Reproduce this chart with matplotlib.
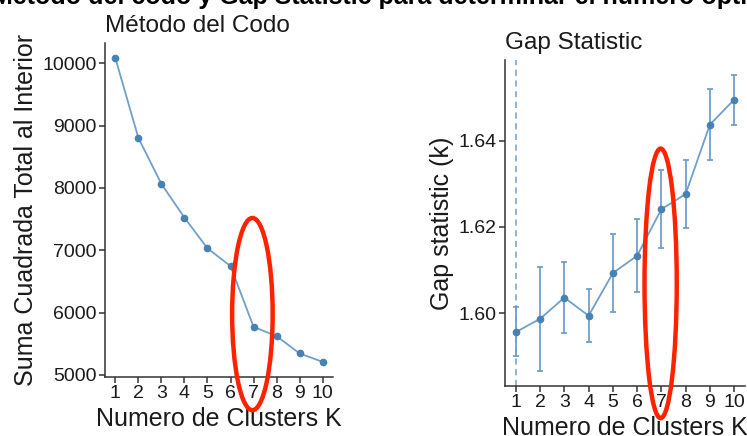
import matplotlib
matplotlib.use("Agg")
import matplotlib.pyplot as plt
from matplotlib.patches import Ellipse

k = [1, 2, 3, 4, 5, 6, 7, 8, 9, 10]
wss = [10080, 8800, 8063, 7522, 7030, 6746, 5772, 5622, 5345, 5210]
gap = [1.5956, 1.5987, 1.6036, 1.5994, 1.6093, 1.6133, 1.6241, 1.6276, 1.6437, 1.6495]
gap_lo = [1.5900, 1.5865, 1.5954, 1.5934, 1.6002, 1.6048, 1.6150, 1.6198, 1.6354, 1.6437]
gap_hi = [1.6014, 1.6108, 1.6118, 1.6056, 1.6184, 1.6218, 1.6332, 1.6355, 1.6519, 1.6553]
optimal_k = 1
highlight_k = 7

plt.rcParams['font.family'] = ['Liberation Sans', 'DejaVu Sans']
W, H = 747, 436
fig = plt.figure(figsize=(W / 100, H / 100), dpi=100)

line_c = '#6F9FCB'
pt_c = '#4682B4'
red = '#FF2200'
txt = '#1a1a1a'

def px_axes(l, t, r, b):
    return fig.add_axes([l / W, 1 - b / H, (r - l) / W, (b - t) / H])

def style(ax):
    for s in ['top', 'right']:
        ax.spines[s].set_visible(False)
    for s in ['left', 'bottom']:
        ax.spines[s].set_color('#333333')
        ax.spines[s].set_linewidth(1.1)
    ax.tick_params(axis='both', colors='#333333', labelcolor=txt, labelsize=14,
                   length=4, width=1.1, pad=2)
    ax.set_xticks(k)
    ax.set_xlim(0.55, 10.45)

# Left panel: elbow
ax1 = px_axes(105, 43, 333, 377)
style(ax1)
ax1.plot(k, wss, color=line_c, lw=1.3, zorder=2)
ax1.plot(k, wss, 'o', color=pt_c, ms=4.5, zorder=3)
ax1.set_ylim(4967, 10323)
ax1.set_yticks([5000, 6000, 7000, 8000, 9000, 10000])
ax1.set_xlabel('Numero de Clusters K', fontsize=18, color=txt, labelpad=3)
ax1.set_ylabel('Suma Cuadrada Total al Interior', fontsize=18, color=txt, labelpad=3)
ax1.set_title('Método del Codo', fontsize=17.5, color=txt, loc='left', pad=8)
ax1.add_patch(Ellipse((highlight_k - 0.05, 5976), 1.76, 3082, fill=False,
                      edgecolor=red, lw=3.2, clip_on=False, zorder=5))

# Right panel: gap statistic
ax2 = px_axes(505, 60, 745, 386)
style(ax2)
yerr = [[g - lo for g, lo in zip(gap, gap_lo)], [hi - g for g, hi in zip(gap, gap_hi)]]
ax2.errorbar(k, gap, yerr=yerr, fmt='none', ecolor=line_c, elinewidth=1.3,
             capsize=2.5, capthick=1.3, zorder=2)
ax2.plot(k, gap, color=line_c, lw=1.3, zorder=2)
ax2.plot(k, gap, 'o', color=pt_c, ms=4.5, zorder=3)
ax2.axvline(optimal_k, color=line_c, lw=1.1, ls=(0, (4, 3)), zorder=1)
ax2.set_ylim(1.5831, 1.6587)
ax2.set_yticks([1.60, 1.62, 1.64])
ax2.set_yticklabels(['1.60', '1.62', '1.64'])
ax2.set_xlabel('Numero de Clusters K', fontsize=18, color=txt, labelpad=3)
ax2.set_ylabel('Gap statistic (k)', fontsize=18, color=txt, labelpad=3)
ax2.set_title('Gap Statistic', fontsize=17.5, color=txt, loc='left', pad=8)
ax2.add_patch(Ellipse((highlight_k - 0.03, 1.6069), 1.33, 0.0625, fill=False,
                      edgecolor=red, lw=3.2, clip_on=False, zorder=5))

fig.text(-0.0105, 1 - 4 / H, 'Método del codo y Gap Statistic para determinar el número óptimo de clusters',
         fontsize=18, fontweight='bold', color='black', ha='left', va='baseline')

fig.savefig('out.png', dpi=100)
